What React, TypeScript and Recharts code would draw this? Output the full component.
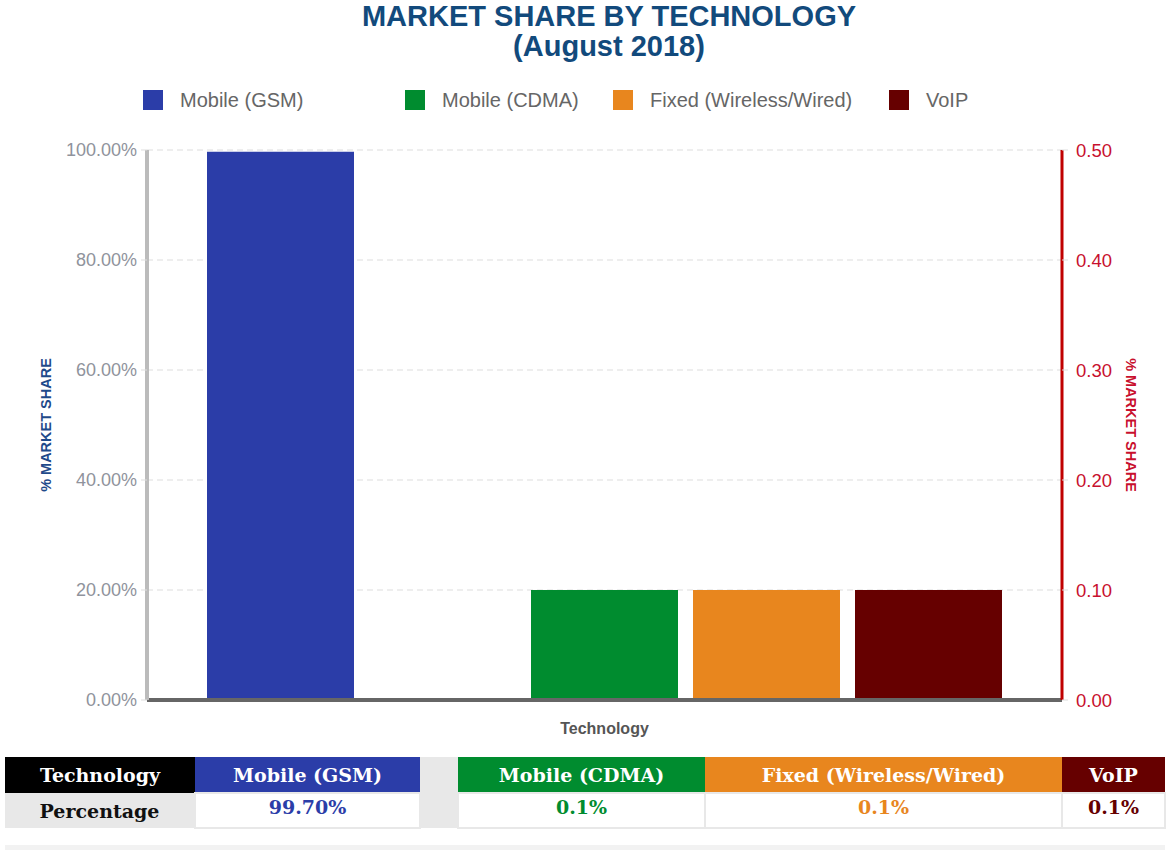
import { BarChart, Bar, XAxis, YAxis, CartesianGrid, Legend, Label } from 'recharts';

// Series shown in the chart (the empty slot keeps the gap between GSM and CDMA)
const technologies = ['Mobile (GSM)', '', 'Mobile (CDMA)', 'Fixed (Wireless/Wired)', 'VoIP'];
const shares: (number | null)[] = [99.7, null, 0.1, 0.1, 0.1];
const tableValues = ['99.70%', '', '0.1%', '0.1%', '0.1%'];
const axisSides = ['left', 'left', 'right', 'right', 'right'];
const colors = ['#2b3da8', '#e8e8e8', '#008c2f', '#e8861e', '#660000'];

const leftTicks = [0, 20, 40, 60, 80, 100];
const rightTicks = [0, 0.1, 0.2, 0.3, 0.4, 0.5];

const chartData = [
  technologies.reduce<Record<string, string | number | null>>(
    (row, _name, i) => {
      row[`s${i}`] = shares[i];
      return row;
    },
    { name: 'Technology' }
  ),
];

const legendWidths = [262, 208, 276, 120];

const FONT = '"Liberation Sans", Arial, sans-serif';

const LegendBox = () => (
  <div style={{ height: 65, display: 'flex', paddingLeft: 143, paddingTop: 5, boxSizing: 'border-box' }}>
    {technologies
      .map((name, i) => ({ name, color: colors[i] }))
      .filter((t) => t.name !== '')
      .map((t, i) => (
        <div key={t.name} style={{ width: legendWidths[i], display: 'flex', alignItems: 'center', height: 20 }}>
          <span style={{ width: 20, height: 20, background: t.color, display: 'inline-block', marginRight: 17, flexShrink: 0 }} />
          <span style={{ color: '#666', fontSize: 20, fontFamily: FONT, whiteSpace: 'nowrap' }}>{t.name}</span>
        </div>
      ))}
  </div>
);

const cellBase = {
  textAlign: 'center' as const,
  fontFamily: '"DejaVu Serif", Georgia, serif',
  fontWeight: 700,
  fontSize: 19,
  padding: 0,
  whiteSpace: 'nowrap' as const,
};

export default function App() {
  return (
    <div style={{ position: 'absolute', left: 0, top: 0, width: 1174, height: 850, fontFamily: FONT, background: '#fff' }}>
      <div
        style={{
          position: 'absolute',
          left: 44,
          top: 1,
          width: 1130,
          textAlign: 'center',
          color: '#124a7c',
          fontWeight: 700,
          fontSize: 29,
          lineHeight: '30px',
        }}
      >
        MARKET SHARE BY TECHNOLOGY
        <br />
        (August 2018)
      </div>

      <BarChart
        width={1174}
        height={745}
        data={chartData}
        margin={{ top: 85, right: 0, bottom: 5, left: 0 }}
        barGap={15}
        style={{ position: 'absolute', left: 0, top: 0 }}
      >
        <Legend verticalAlign="top" align="left" wrapperStyle={{ left: 0, width: 1174 }} content={() => <LegendBox />} />
        <CartesianGrid yAxisId="left" vertical={false} stroke="#dddddd" strokeDasharray="6 4" />
        <XAxis
          dataKey="name"
          tick={false}
          tickLine={false}
          height={40}
          axisLine={{ stroke: '#666666', strokeWidth: 4 }}
        >
          <Label value="Technology" position="insideBottom" offset={6} fill="#555" fontSize={16} fontWeight={700} />
        </XAxis>
        <YAxis
          yAxisId="left"
          width={147}
          domain={[0, 100]}
          ticks={leftTicks}
          tickFormatter={(v: number) => `${v.toFixed(2)}%`}
          tick={{ fill: '#8f939c', fontSize: 18 }}
          tickLine={{ stroke: '#dddddd' }}
          tickSize={6}
          tickMargin={4}
          axisLine={{ stroke: '#bbbbbb', strokeWidth: 4 }}
        >
          <Label
            value="% MARKET SHARE"
            position="center"
            angle={-90}
            dx={-28}
            fill="#1f4a8a"
            fontSize={14.5}
            fontWeight={700}
          />
        </YAxis>
        <YAxis
          yAxisId="right"
          orientation="right"
          width={112}
          domain={[0, 0.5]}
          ticks={rightTicks}
          tickFormatter={(v: number) => v.toFixed(2)}
          tick={{ fill: '#c8102e', fontSize: 18.5 }}
          tickLine={{ stroke: '#dddddd' }}
          tickSize={6}
          tickMargin={8}
          axisLine={{ stroke: '#c00000', strokeWidth: 3 }}
        >
          <Label
            value="% MARKET SHARE"
            position="center"
            angle={90}
            dx={13}
            fill="#c8102e"
            fontSize={14.5}
            fontWeight={700}
          />
        </YAxis>
        {technologies.map((name, i) => (
          <Bar
            key={`s${i}`}
            dataKey={`s${i}`}
            name={name || 'blank'}
            yAxisId={axisSides[i]}
            fill={colors[i]}
            barSize={147}
            legendType="none"
            isAnimationActive={false}
          />
        ))}
      </BarChart>

      <table
        style={{
          position: 'absolute',
          left: 5,
          top: 757,
          width: 1160,
          borderCollapse: 'collapse',
          tableLayout: 'fixed',
        }}
      >
        <colgroup>
          <col style={{ width: 190 }} />
          <col style={{ width: 225 }} />
          <col style={{ width: 38 }} />
          <col style={{ width: 247 }} />
          <col style={{ width: 357 }} />
          <col style={{ width: 103 }} />
        </colgroup>
        <tbody>
          <tr style={{ height: 36 }}>
            <td style={{ ...cellBase, background: '#000', color: '#fff' }}>Technology</td>
            {technologies.map((name, i) => (
              <td key={i} style={{ ...cellBase, background: colors[i], color: '#fff' }}>
                {name}
              </td>
            ))}
          </tr>
          <tr style={{ height: 35 }}>
            <td style={{ ...cellBase, background: '#e8e8e8', color: '#111' }}>Percentage</td>
            {tableValues.map((v, i) => (
              <td
                key={i}
                style={{
                  ...cellBase,
                  background: i === 1 ? '#e8e8e8' : '#fff',
                  color: colors[i],
                  border: i === 1 ? 'none' : '2px solid #e8e8e8',
                  verticalAlign: 'top',
                  paddingTop: 2,
                }}
              >
                {v}
              </td>
            ))}
          </tr>
        </tbody>
      </table>
      <div style={{ position: 'absolute', left: 5, top: 845, width: 1160, height: 5, background: '#f2f2f2' }} />
    </div>
  );
}
